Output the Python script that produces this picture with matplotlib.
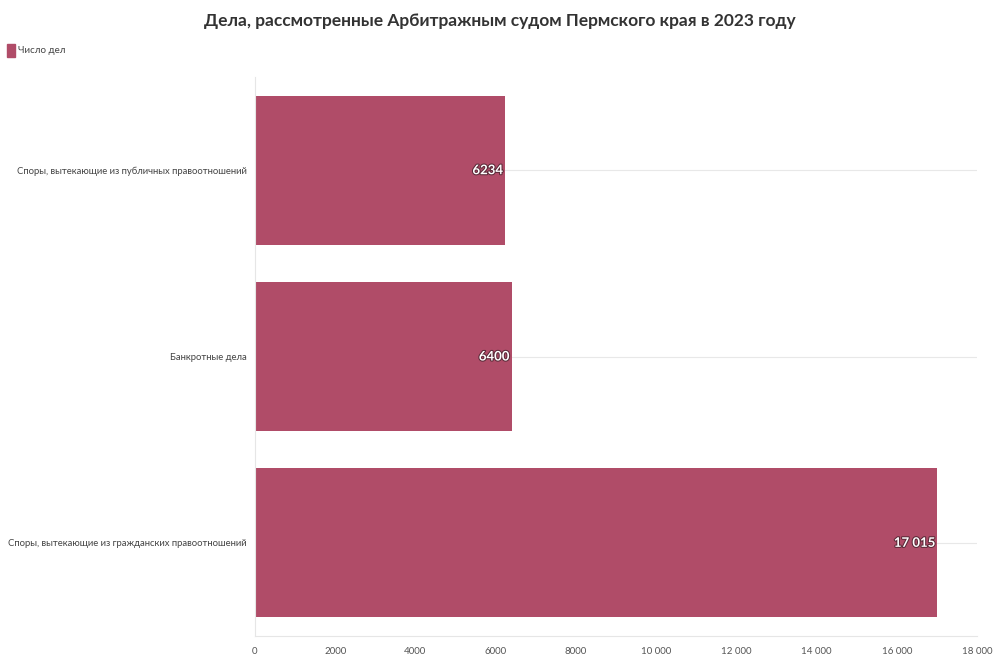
import matplotlib.pyplot as plt
import matplotlib.patheffects as pe
from matplotlib.patches import Rectangle
from matplotlib.ticker import FuncFormatter

plt.rcParams['font.family'] = ['Lato', 'DejaVu Sans']

# Дела по категориям (сверху вниз)
categories = ['Споры, вытекающие из публичных правоотношений',
              'Банкротные дела',
              'Споры, вытекающие из гражданских правоотношений']
cases = [6234, 6400, 17015]
x_ticks = [0, 2000, 4000, 6000, 8000, 10000, 12000, 14000, 16000, 18000]

bar_color = '#b04c68'


def fmt_num(v):
    v = int(v)
    if v >= 10000:
        return f'{v:,}'.replace(',', ' ')
    return str(v)


fig = plt.figure(figsize=(10, 6.67), dpi=100)
ax = fig.add_axes([0.255, 0.0465, 0.722, 0.838])

y_pos = list(range(len(categories)))
ax.barh(y_pos, cases, height=0.8, color=bar_color, zorder=2)

for y, v in zip(y_pos, cases):
    ax.text(v - 50, y, fmt_num(v), ha='right', va='center', color='white',
            fontsize=9.5, fontweight='bold', zorder=3,
            path_effects=[pe.withStroke(linewidth=1.5, foreground='#5a2a38')])

ax.set_ylim(2.5, -0.5)
ax.set_xlim(0, 18000)
ax.set_yticks(y_pos)
ax.set_yticklabels(categories, fontsize=6.8, color='#444444')
ax.set_xticks(x_ticks)
ax.xaxis.set_major_formatter(FuncFormatter(lambda v, p: fmt_num(v)))
ax.tick_params(axis='x', labelsize=7, colors='#555555', length=0, pad=8)
ax.tick_params(axis='y', length=0, pad=6)

ax.grid(axis='y', color='#e8e8e8', linewidth=0.8, zorder=0)
for s in ['top', 'right']:
    ax.spines[s].set_visible(False)
for s in ['left', 'bottom']:
    ax.spines[s].set_color('#e6e6e6')
    ax.spines[s].set_linewidth(0.8)

fig.text(0.5, 0.968, 'Дела, рассмотренные Арбитражным судом Пермского края в 2023 году',
         ha='center', va='center', fontsize=12.5, fontweight='bold', color='#333333')

# легенда
fig.patches.append(Rectangle((0.007, 0.915), 0.008, 0.019, transform=fig.transFigure,
                             color=bar_color, figure=fig))
fig.text(0.018, 0.924, 'Число дел', ha='left', va='center', fontsize=7,
         color='#444444')

fig.savefig('out.png', dpi=100)
